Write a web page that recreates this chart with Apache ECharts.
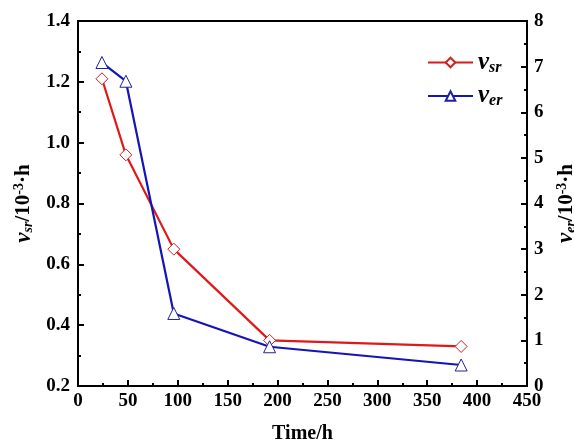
<!DOCTYPE html>
<html>
<head>
<meta charset="utf-8">
<script src="https://cdn.jsdelivr.net/npm/echarts@6/dist/echarts.min.js"></script>
<style>html,body{margin:0;padding:0;background:#fff}#c{width:574px;height:442px}</style>
</head>
<body>
<div id="c"></div>
<script>
const timeH = [24, 48, 96, 192, 384];
const vsr = [1.21, 0.96, 0.65, 0.35, 0.33];
const ver = [7.09, 6.68, 1.59, 0.86, 0.46];
const xTicks = [0, 50, 100, 150, 200, 250, 300, 350, 400, 450];
const leftTicks = [0.2, 0.4, 0.6, 0.8, 1.0, 1.2, 1.4];
const rightTicks = [0, 1, 2, 3, 4, 5, 6, 7, 8];

const FONT = '"Liberation Serif", "Times New Roman", serif';
const chart = echarts.init(document.getElementById('c'), null, {renderer: 'canvas'});
const richName = {
  i: {fontFamily: FONT, fontWeight: 'bold', fontStyle: 'italic', fontSize: 23, color: '#000'},
  sub: {fontFamily: FONT, fontWeight: 'bold', fontStyle: 'italic', fontSize: 14, color: '#000', padding: [9, 0, 0, 0]},
  n: {fontFamily: FONT, fontWeight: 'bold', fontSize: 21, color: '#000'},
  sup: {fontFamily: FONT, fontWeight: 'bold', fontSize: 14, color: '#000', padding: [0, 0, 9, 0]}
};
const axisLabelStyle = {fontFamily: FONT, fontWeight: 'bold', fontSize: 19, color: '#000'};
chart.setOption({
  animation: false,
  backgroundColor: '#fff',
  grid: {left: 78, right: 47, top: 21, bottom: 56, outerBoundsMode: 'none', containLabel: false,
         show: true, borderColor: '#000', borderWidth: 2, backgroundColor: 'transparent'},
  legend: {
    orient: 'vertical', left: 422, top: 45, itemWidth: 45, itemHeight: 12, itemGap: 8,
    data: ['vsr', 'ver'],
    formatter: function (n) { return '{i|v}{sub|' + n.slice(1) + '}'; },
    textStyle: {rich: {
      i: {fontFamily: FONT, fontWeight: 'bold', fontStyle: 'italic', fontSize: 25, color: '#000'},
      sub: {fontFamily: FONT, fontWeight: 'bold', fontStyle: 'italic', fontSize: 16, color: '#000', padding: [10, 0, 0, 0]}
    }}
  },
  xAxis: {
    type: 'value', min: xTicks[0], max: xTicks[xTicks.length - 1], interval: 50,
    name: 'Time/h', nameLocation: 'middle', nameGap: 38,
    nameTextStyle: {fontFamily: FONT, fontWeight: 'bold', fontSize: 20, color: '#000'},
    axisLine: {show: true, onZero: false, lineStyle: {color: '#000', width: 2}},
    axisTick: {show: true, inside: true, length: 6, lineStyle: {color: '#000', width: 2}},
    minorTick: {show: true, splitNumber: 2, length: 3, lineStyle: {color: '#000', width: 2}},
    splitLine: {show: false},
    axisLabel: Object.assign({margin: 6}, axisLabelStyle)
  },
  yAxis: [{
    type: 'value', min: leftTicks[0], max: leftTicks[leftTicks.length - 1], interval: 0.2,
    name: '{i|v}{sub|sr}{n|/10}{sup|-3}{n|·h}', nameLocation: 'middle', nameGap: 42, nameRotate: 90,
    nameTextStyle: {rich: richName},
    axisLine: {show: true, onZero: false, lineStyle: {color: '#000', width: 2}},
    axisTick: {show: true, inside: true, length: 6, lineStyle: {color: '#000', width: 2}},
    minorTick: {show: true, splitNumber: 2, length: 3, lineStyle: {color: '#000', width: 2}},
    splitLine: {show: false},
    axisLabel: Object.assign({margin: 8, formatter: v => v.toFixed(1)}, axisLabelStyle)
  }, {
    type: 'value', min: rightTicks[0], max: rightTicks[rightTicks.length - 1], interval: 1, position: 'right',
    name: '{i|v}{sub|er}{n|/10}{sup|-3}{n|·h}', nameLocation: 'middle', nameGap: 28, nameRotate: 90,
    nameTextStyle: {rich: richName},
    axisLine: {show: true, onZero: false, lineStyle: {color: '#000', width: 2}},
    axisTick: {show: true, inside: true, length: 6, lineStyle: {color: '#000', width: 2}},
    minorTick: {show: true, splitNumber: 2, length: 3, lineStyle: {color: '#000', width: 2}},
    splitLine: {show: false},
    axisLabel: Object.assign({margin: 7}, axisLabelStyle)
  }],
  series: [{
    name: 'vsr', type: 'line', yAxisIndex: 0,
    data: timeH.map((t, i) => [t, vsr[i]]),
    symbol: 'diamond', symbolSize: 12, showAllSymbol: true,
    lineStyle: {color: '#e01818', width: 2.2},
    itemStyle: {color: '#fff', borderColor: '#d02020', borderWidth: 1},
    z: 3
  }, {
    name: 'ver', type: 'line', yAxisIndex: 1,
    data: timeH.map((t, i) => [t, ver[i]]),
    symbol: 'triangle', symbolSize: 12, showAllSymbol: true,
    lineStyle: {color: '#1414b8', width: 2.2},
    itemStyle: {color: '#fff', borderColor: '#2020a0', borderWidth: 1},
    z: 3
  }]
});
</script>
</body>
</html>
